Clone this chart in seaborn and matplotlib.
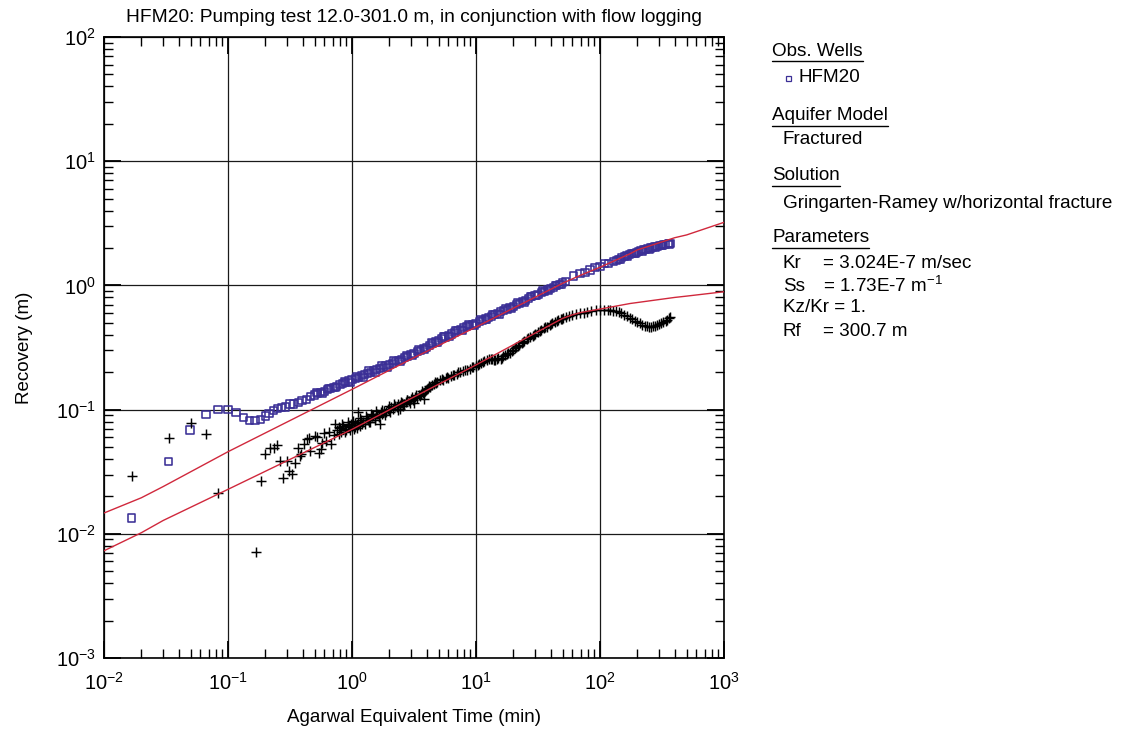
import numpy as np
import pandas as pd
import matplotlib
matplotlib.use("Agg")
import matplotlib.pyplot as plt
from matplotlib.lines import Line2D
from matplotlib.ticker import LogLocator, NullFormatter
import seaborn as sns

# ---------------------------------------------------------------- data
# Recovery observed in HFM20 (open squares)
obs_t = [0.0168, 0.0334, 0.0494, 0.0665, 0.083, 0.100, 0.116, 0.133, 0.149, 0.165,
         0.184, 0.200, 0.214, 0.232, 0.250, 0.269, 0.290, 0.316, 0.340, 0.372,
         0.395, 0.431, 0.465,
         0.50, 0.53, 0.56, 0.60, 0.63, 0.67, 0.71, 0.75, 0.80, 0.84, 0.89, 0.94,
         1.00, 1.06, 1.12, 1.19, 1.26, 1.33, 1.41, 1.50, 1.58, 1.68, 1.78, 1.88,
         2.00, 2.11, 2.24, 2.37, 2.51, 2.66, 2.82, 2.99, 3.16, 3.35, 3.55, 3.76,
         3.98, 4.22, 4.47, 4.73, 5.01, 5.31, 5.62, 5.96, 6.31, 6.68, 7.08, 7.50,
         7.94, 8.41, 8.91, 9.44, 10.0, 10.6, 11.2, 11.9, 12.6, 13.3, 14.1, 15.0,
         15.8, 16.8, 17.8, 18.8, 20.0, 21.1, 22.4, 23.7, 25.1, 26.6, 28.2, 29.9,
         31.6, 33.5, 35.5, 37.6, 39.8, 42.2, 44.7, 47.3, 50.1, 53.0,
         0.52, 0.58, 0.65, 0.73, 0.87, 0.97, 1.09, 1.23, 1.37, 1.54, 1.73, 1.94,
         2.18, 2.44, 2.74, 3.07, 3.45, 3.87, 4.35, 4.87, 5.46, 6.13, 6.88, 7.72,
         8.66, 9.72, 10.9, 12.2, 13.7, 15.4, 17.3, 19.4, 21.8, 24.4, 27.4, 30.8,
         34.5, 38.7, 43.4, 48.7,
         61.0, 69.0, 75.7, 83.0, 91.2, 100.0, 108.0, 117.0, 128.0,
         135, 142, 150, 158, 164, 172, 180, 188, 196, 205, 214, 223, 233, 243,
         254, 265, 276, 288, 300, 313, 326, 340, 354, 367,
         146, 168, 192, 218, 249, 282, 320, 360]
obs_s = [0.0134, 0.038, 0.0685, 0.091, 0.101, 0.101, 0.094, 0.0861, 0.0815, 0.0815,
         0.0836, 0.0888, 0.0933, 0.098, 0.102, 0.1035, 0.105, 0.111, 0.111, 0.1145,
         0.118, 0.121, 0.127,
         0.131, 0.134, 0.137, 0.140, 0.144, 0.148, 0.151, 0.154, 0.158, 0.162, 0.166, 0.170,
         0.175, 0.178, 0.182, 0.187, 0.191, 0.196, 0.200, 0.205, 0.210, 0.215, 0.220, 0.225,
         0.232, 0.237, 0.243, 0.249, 0.255, 0.262, 0.269, 0.277, 0.285, 0.292, 0.300, 0.309,
         0.318, 0.329, 0.340, 0.350, 0.362, 0.373, 0.384, 0.395, 0.406, 0.418, 0.430, 0.442,
         0.455, 0.466, 0.476, 0.486, 0.495, 0.508, 0.522, 0.536, 0.551, 0.565, 0.580, 0.596,
         0.612, 0.628, 0.645, 0.662, 0.680, 0.700, 0.720, 0.740, 0.762, 0.785, 0.808, 0.830,
         0.850, 0.873, 0.896, 0.920, 0.945, 0.970, 0.995, 1.02, 1.05, 1.07,
         0.138, 0.134, 0.147, 0.150, 0.168, 0.166, 0.186, 0.181, 0.205, 0.200, 0.225, 0.220,
         0.248, 0.243, 0.274, 0.272, 0.305, 0.304, 0.344, 0.345, 0.388, 0.390, 0.436, 0.436,
         0.482, 0.478, 0.528, 0.530, 0.586, 0.588, 0.652, 0.655, 0.726, 0.733, 0.812, 0.823,
         0.902, 0.912, 1.00, 1.02,
         1.19, 1.24, 1.27, 1.33, 1.39, 1.43, 1.49, 1.51, 1.57,
         1.60, 1.63, 1.67, 1.70, 1.74, 1.77, 1.80, 1.82, 1.85, 1.88, 1.90, 1.93, 1.95, 1.98,
         2.00, 2.03, 2.05, 2.07, 2.09, 2.11, 2.13, 2.14, 2.16, 2.17,
         1.62, 1.72, 1.81, 1.87, 1.96, 2.02, 2.10, 2.13]

# Recovery derivative (crosses)
deriv_t = [0.0169, 0.0336, 0.050, 0.0663, 0.0826, 0.167, 0.184, 0.200, 0.217, 0.233,
           0.249, 0.264, 0.280, 0.300, 0.313, 0.330, 0.345, 0.365, 0.380, 0.390,
           0.410, 0.430, 0.450, 0.460, 0.500, 0.520, 0.540, 0.560, 0.570, 0.590,
           0.620, 0.650, 0.680, 0.710, 0.730,
           0.76, 0.78, 0.80, 0.82, 0.85, 0.87, 0.90, 0.92, 0.95, 0.98, 1.00, 1.03,
           1.06, 1.09, 1.12, 1.12, 1.15, 1.19, 1.23, 1.27, 1.31, 1.35, 1.40, 1.45,
           1.49, 1.54, 1.59, 1.64, 1.68, 1.70, 1.76, 1.82, 1.88, 1.94, 2.00, 2.07,
           2.14, 2.22, 2.29, 2.37, 2.44, 2.44, 2.53, 2.62, 2.71, 2.80, 2.90, 3.00,
           3.12, 3.23, 3.35, 3.47, 3.60, 3.72, 3.83, 3.86, 4.00, 4.13, 4.25, 4.40,
           4.56, 4.72, 4.89, 5.13, 5.40, 5.70, 6.00, 6.30, 6.65, 6.98, 7.40, 7.90,
           8.40, 8.90, 9.50, 10.0, 10.6, 11.3, 12.2, 12.8, 13.5, 14.3, 15.1, 15.8,
           16.6, 17.7, 18.8, 20.0, 21.2, 22.4, 23.4, 24.6, 25.9, 27.2, 28.6, 30.1,
           31.8, 33.5, 35.3, 37.2, 39.2, 41.3, 43.5, 45.8, 48.2, 50.6, 53.5, 56.5,
           60.0, 64.0, 69.0, 74.0, 79.0, 85.0, 92.0, 100, 108, 115, 120, 127,
           134, 141, 148, 156, 164, 173, 182, 191, 200, 210, 220, 230, 240, 250,
           260, 270, 280, 290, 300, 312, 325, 338, 350, 360, 367,
           0.79, 0.83, 0.88, 0.93, 0.97, 1.01, 1.05, 1.10, 1.17, 1.21, 1.29, 1.38,
           1.43, 1.52, 1.57, 1.66, 1.73, 1.85, 1.97, 2.04, 2.18, 2.33, 2.48, 2.58,
           2.76, 2.95, 3.06, 3.18, 3.30, 3.52, 3.66, 3.93, 4.20, 4.64, 5.27, 5.85,
           6.47, 7.20, 8.10, 9.20, 10.3, 11.0, 11.7, 13.1, 13.9, 14.7, 16.2, 17.2,
           18.2, 19.4, 20.6, 21.8, 24.0, 26.5, 29.3, 32.6, 36.2, 40.2, 44.6, 49.4]
deriv_s = [0.0294, 0.0587, 0.078, 0.0637, 0.0213, 0.00718, 0.0268, 0.0442, 0.0493, 0.049,
           0.052, 0.0385, 0.0283, 0.0385, 0.032, 0.0305, 0.037, 0.049, 0.042, 0.044,
           0.053, 0.0575, 0.059, 0.0465, 0.0616, 0.060, 0.045, 0.048, 0.054, 0.065,
           0.056, 0.066, 0.053, 0.063, 0.077,
           0.068, 0.072, 0.0706, 0.066, 0.074, 0.070, 0.068, 0.075, 0.072, 0.077, 0.073, 0.070,
           0.078, 0.075, 0.096, 0.079, 0.074, 0.082, 0.080, 0.077, 0.085, 0.083, 0.080, 0.088,
           0.0906, 0.086, 0.092, 0.089, 0.0766, 0.095, 0.092, 0.098, 0.096, 0.101, 0.099, 0.104,
           0.102, 0.107, 0.105, 0.110, 0.102, 0.108, 0.112, 0.110, 0.116, 0.119, 0.117, 0.122,
           0.119, 0.126, 0.124, 0.130, 0.133, 0.137, 0.121, 0.140, 0.146, 0.150, 0.153, 0.158,
           0.161, 0.165, 0.167, 0.172, 0.174, 0.178, 0.181, 0.185, 0.190, 0.194, 0.199, 0.203,
           0.208, 0.214, 0.221, 0.224, 0.232, 0.240, 0.250, 0.254, 0.255, 0.253, 0.258, 0.256,
           0.268, 0.280, 0.288, 0.302, 0.318, 0.332, 0.342, 0.356, 0.370, 0.381, 0.393, 0.407,
           0.424, 0.437, 0.451, 0.465, 0.480, 0.495, 0.510, 0.525, 0.536, 0.543, 0.555, 0.566,
           0.577, 0.586, 0.596, 0.605, 0.612, 0.620, 0.628, 0.634, 0.636, 0.634, 0.632, 0.626,
           0.617, 0.606, 0.596, 0.582, 0.565, 0.548, 0.535, 0.520, 0.508, 0.495, 0.484, 0.474,
           0.467, 0.465, 0.466, 0.468, 0.475, 0.481, 0.490, 0.497, 0.506, 0.518, 0.530, 0.545,
           0.556,
           0.064, 0.076, 0.066, 0.079, 0.068, 0.081, 0.072, 0.071, 0.086, 0.076, 0.089, 0.079,
           0.092, 0.083, 0.097, 0.087, 0.100, 0.090, 0.106, 0.095, 0.111, 0.100, 0.116, 0.106,
           0.120, 0.112, 0.126, 0.114, 0.130, 0.128, 0.141, 0.144, 0.155, 0.166, 0.176, 0.183,
           0.191, 0.199, 0.209, 0.219, 0.229, 0.236, 0.246, 0.257, 0.250, 0.257, 0.262, 0.274,
           0.285, 0.296, 0.311, 0.326, 0.350, 0.377, 0.401, 0.430, 0.459, 0.488, 0.518, 0.541]

# Gringarten-Ramey type curves (recovery and derivative)
model_t = [0.01, 0.02, 0.03, 0.1, 1.0, 3.0, 10.0, 50.0, 60.0, 70.0, 100.0, 175.0,
           200.0, 400.0, 500.0, 1000.0]
model_recovery = [0.0147, 0.0195, 0.024, 0.0458, 0.1455, 0.255, 0.462, 1.04, 1.13,
                  1.21, 1.40, 1.80, 1.93, 2.42, 2.55, 3.22]
model_deriv = [0.0073, 0.0102, 0.0128, 0.0228, 0.0693, 0.123, 0.229, 0.543, 0.58,
               0.605, 0.645, 0.715, 0.728, 0.80, 0.82, 0.889]

title_text = "HFM20: Pumping test 12.0-301.0 m, in conjunction with flow logging"
x_label = "Agarwal Equivalent Time (min)"
y_label = "Recovery (m)"

panel_sections = [
    ("Obs. Wells", ["HFM20"]),
    ("Aquifer Model", ["Fractured"]),
    ("Solution", ["Gringarten-Ramey w/horizontal fracture"]),
    ("Parameters", None),
]
param_names = ["Kr", "Ss", "Kz/Kr = 1.", "Rf"]
param_values = ["= 3.024E-7 m/sec", r"= 1.73E-7 m$^{-1}$", "", "= 300.7 m"]

# ---------------------------------------------------------------- style
sns.set_theme(style="ticks")
plt.rcParams["font.family"] = ["Liberation Sans", "DejaVu Sans"]
plt.rcParams["mathtext.fontset"] = "custom"
plt.rcParams["mathtext.rm"] = "Liberation Sans"
plt.rcParams["mathtext.it"] = "Liberation Sans:italic"
plt.rcParams["mathtext.bf"] = "Liberation Sans:bold"
plt.rcParams["mathtext.default"] = "regular"

W, H = 1126, 729
fig = plt.figure(figsize=(W / 100, H / 100), dpi=100)
fig.patch.set_facecolor("white")
ax = fig.add_axes([104 / W, 1 - 658 / H, 620 / W, 621 / H])
ax.set_facecolor("white")
ax.set_xscale("log")
ax.set_yscale("log")

SQUARE_BLUE = "#3b2f96"
RED = "#d0283c"

obs_df = pd.DataFrame({"t": obs_t, "s": obs_s})
deriv_df = pd.DataFrame({"t": deriv_t, "s": deriv_s})
model_df = pd.DataFrame({"t": model_t, "rec": model_recovery, "der": model_deriv})

sns.scatterplot(data=obs_df, x="t", y="s", marker="s", s=26, color=SQUARE_BLUE,
                facecolor="none", edgecolor=SQUARE_BLUE, linewidth=1.15,
                ax=ax, zorder=3)
sns.scatterplot(data=deriv_df, x="t", y="s", marker="+", s=42, color="black",
                linewidth=1.05, ax=ax, zorder=3)
sns.lineplot(data=model_df, x="t", y="rec", color=RED, lw=1.0,
             estimator=None, sort=False, ax=ax, zorder=4)
sns.lineplot(data=model_df, x="t", y="der", color=RED, lw=1.0,
             estimator=None, sort=False, ax=ax, zorder=4)

ax.set_xlim(1e-2, 1e3)
ax.set_ylim(1e-3, 1e2)

for axis in (ax.xaxis, ax.yaxis):
    axis.set_major_locator(LogLocator(base=10, numticks=12))
    axis.set_minor_locator(LogLocator(base=10, subs=np.arange(2, 10), numticks=12))
    axis.set_minor_formatter(NullFormatter())

ax.grid(True, which="major", color="#1a1a1a", lw=0.9)
ax.tick_params(which="both", direction="in", top=True, right=True, colors="black")
ax.tick_params(which="major", length=12, width=1.3, labelsize=14.5)
ax.tick_params(which="minor", length=6.5, width=1.0)
ax.tick_params(axis="x", which="major", pad=10)
ax.tick_params(axis="y", which="major", pad=6)
for sp in ax.spines.values():
    sp.set_color("black")
    sp.set_linewidth(1.2)

ax.set_xlabel(x_label, fontsize=13.5, labelpad=11, color="black")
ax.set_ylabel(y_label, fontsize=13.5, labelpad=16, color="black")
ax.set_title(title_text, fontsize=13.8, pad=11, color="black")

# ---------------------------------------------------------------- side panel
FS = 13.6
x_head, x_item, x_eq = 772, 783, 823
header_y = [51, 116, 176, 238]
item_y = [78, 140, 204]
param_y = [264, 286, 308, 331]

headers = []
for (head, items), hy in zip(panel_sections, header_y):
    headers.append(fig.text(x_head / W, 1 - hy / H, head, ha="left", va="center",
                            fontsize=FS, color="black"))
for k, iy in enumerate(item_y):
    label = panel_sections[k][1][0]
    xo = x_item + (15 if k == 0 else 0)
    fig.text(xo / W, 1 - iy / H, label, ha="left", va="center", fontsize=FS, color="black")
fig.add_artist(Line2D([788 / W], [1 - 78 / H], marker="s", markersize=3.6,
                      mfc="none", mec=SQUARE_BLUE, mew=0.9, transform=fig.transFigure))
for name, val, py in zip(param_names, param_values, param_y):
    fig.text(x_item / W, 1 - py / H, name, ha="left", va="center", fontsize=FS, color="black")
    if val:
        fig.text(x_eq / W, 1 - py / H, val, ha="left", va="center", fontsize=FS, color="black")

fig.canvas.draw()
renderer = fig.canvas.get_renderer()
for t, hy in zip(headers, header_y):
    bb = t.get_window_extent(renderer)
    yl = 1 - (hy + 10) / H
    fig.add_artist(Line2D([bb.x0 / W, bb.x1 / W], [yl, yl], color="black", lw=1.0,
                          transform=fig.transFigure))

fig.savefig("out.png", dpi=100, facecolor="white")
